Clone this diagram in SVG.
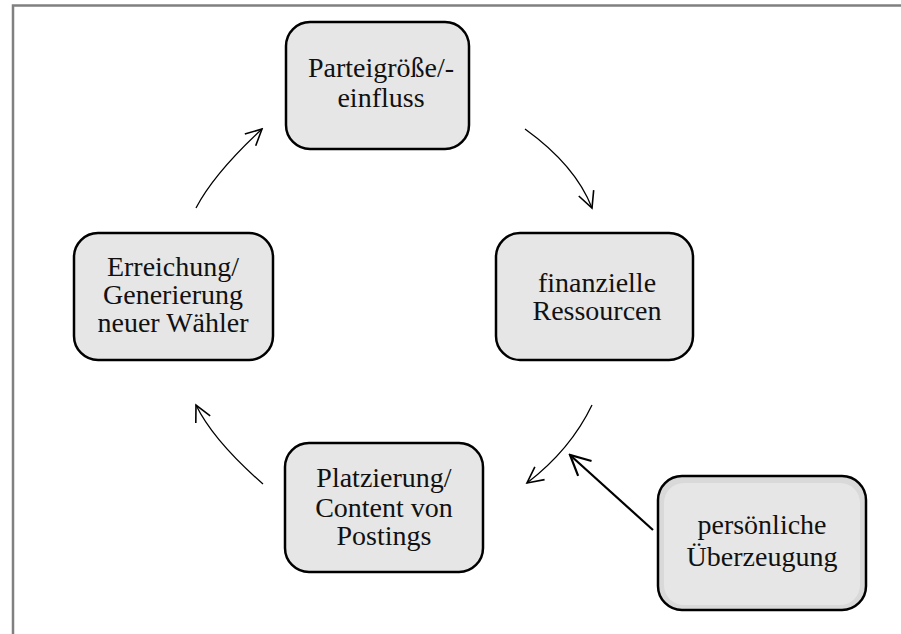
<svg xmlns="http://www.w3.org/2000/svg" width="901" height="634" viewBox="0 0 901 634">
<defs>
<style>
.box{fill:#e6e6e6;stroke:#000;stroke-width:2.5}
.t{font-size:28px;fill:#111;text-anchor:middle}
.c{fill:none;stroke:#000;stroke-width:1.3}
.s{fill:none;stroke:#000;stroke-width:2.2}
</style>
<marker id="ah" viewBox="0 0 20 20" refX="18" refY="10" markerWidth="20" markerHeight="20" markerUnits="userSpaceOnUse" orient="auto">
<path d="M2,2 L18,10 L2,18" fill="none" stroke="#000" stroke-width="1.6"/>
</marker>
<marker id="ah2" viewBox="0 0 24 24" refX="22" refY="12" markerWidth="24" markerHeight="24" markerUnits="userSpaceOnUse" orient="auto">
<path d="M2,2 L22,12 L2,22" fill="none" stroke="#000" stroke-width="2.2"/>
</marker>
</defs>
<rect width="901" height="634" fill="#fff"/>
<path d="M13,640 V5.5 H910" fill="none" stroke="#808080" stroke-width="2.5"/>
<g id="connectors">
<path class="c" d="M196,208 Q214,173.5 262,129" marker-end="url(#ah)"/>
<path class="c" d="M525,129 Q575.5,165.4 592,208" marker-end="url(#ah)"/>
<path class="c" d="M592,405 Q570.5,449.8 527,483" marker-end="url(#ah)"/>
<path class="c" d="M263,484 Q213.2,440.4 196,405" marker-end="url(#ah)"/>
<path class="s" d="M653,530 L570,455" marker-end="url(#ah2)"/>
</g>
<g font-family="Liberation Serif">
<g id="n1">
<rect class="box" x="286" y="22" width="183" height="127" rx="24"/>
<text class="t" x="381" y="77">Parteigröße/-</text>
<text class="t" x="381" y="107">einfluss</text>
</g>
<g id="n2">
<rect class="box" x="496" y="233" width="197" height="127" rx="24"/>
<text class="t" x="597" y="292">finanzielle</text>
<text class="t" x="597" y="320">Ressourcen</text>
</g>
<g id="n3">
<rect class="box" x="74" y="233" width="199" height="127" rx="24"/>
<text class="t" x="173" y="276">Erreichung/</text>
<text class="t" x="173" y="304">Generierung</text>
<text class="t" x="173" y="332">neuer Wähler</text>
</g>
<g id="n4">
<rect class="box" x="285" y="443" width="198" height="129" rx="24"/>
<text class="t" x="384" y="487">Platzierung/</text>
<text class="t" x="384" y="517">Content von</text>
<text class="t" x="384" y="545">Postings</text>
</g>
<g id="n5">
<rect class="box" x="658" y="476" width="208" height="134" rx="24" style="fill:#d9d9d9"/>
<rect x="664" y="483" width="196" height="122" rx="20" fill="#e6e6e6"/>
<text class="t" x="762" y="534">persönliche</text>
<text class="t" x="762" y="566">Überzeugung</text>
</g>
</g>
</svg>
